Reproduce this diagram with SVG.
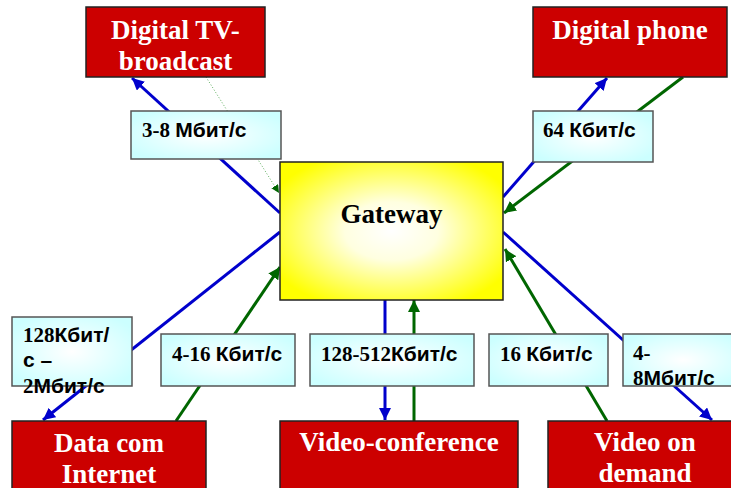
<svg xmlns="http://www.w3.org/2000/svg" width="731" height="488" viewBox="0 0 731 488">
<defs>
<radialGradient id="gy" cx="50%" cy="50%" r="60%">
<stop offset="0" stop-color="#ffffff"/>
<stop offset="0.35" stop-color="#ffffe0"/>
<stop offset="1" stop-color="#ffff00"/>
</radialGradient>
<radialGradient id="gc" cx="50%" cy="50%" r="60%">
<stop offset="0" stop-color="#ffffff"/>
<stop offset="1" stop-color="#ccffff"/>
</radialGradient>
<marker id="ab" viewBox="0 0 10 10" refX="10" refY="5" markerWidth="4" markerHeight="4" orient="auto" markerUnits="strokeWidth">
<path d="M0,0 L10,5 L0,10 z" fill="#0000cc"/>
</marker>
<marker id="ag" viewBox="0 0 10 10" refX="10" refY="5" markerWidth="4" markerHeight="4" orient="auto" markerUnits="strokeWidth">
<path d="M0,0 L10,5 L0,10 z" fill="#006600"/>
</marker>
<marker id="agd" viewBox="0 0 10 10" refX="10" refY="5" markerWidth="8" markerHeight="8" markerUnits="userSpaceOnUse" orient="auto">
<path d="M0,0 L10,5 L0,10 z" fill="#006600"/>
</marker>
</defs>
<style>
.red{fill:#cc0000;stroke:#222;stroke-width:1.5}
.lbl{fill:url(#gc);stroke:#555;stroke-width:1.5}
.gw{fill:url(#gy);stroke:#222;stroke-width:1.5}
.rt{font-family:"Liberation Serif","Times New Roman",serif;font-weight:bold;font-size:27px;fill:#fff;text-anchor:middle}
.gt{font-family:"Liberation Serif","Times New Roman",serif;font-weight:bold;font-size:27px;fill:#000;text-anchor:middle}
.lt{font-family:"Liberation Sans",Arial,sans-serif;font-weight:bold;font-size:21px;fill:#000}
.d{font-family:"Liberation Serif","Times New Roman",serif;font-size:21px}
.b{stroke:#0000cc;stroke-width:3;fill:none;marker-end:url(#ab)}
.g{stroke:#006600;stroke-width:3;fill:none;marker-end:url(#ag)}
.dot{stroke:#339933;stroke-width:0.8;stroke-dasharray:1 2;fill:none;marker-end:url(#agd)}
</style>
<g id="connectors">
<line class="b" x1="280" y1="213" x2="132" y2="78"/>
<line class="dot" x1="206" y1="77" x2="279" y2="193"/>
<line class="b" x1="503" y1="197" x2="607" y2="78"/>
<line class="g" x1="683" y1="77" x2="504" y2="213"/>
<line class="b" x1="280" y1="232" x2="43" y2="420"/>
<line class="g" x1="176" y1="421" x2="280" y2="267"/>
<line class="b" x1="385" y1="300" x2="385" y2="420"/>
<line class="g" x1="414" y1="421" x2="414" y2="300"/>
<line class="g" x1="607" y1="421" x2="505" y2="249"/>
<line class="b" x1="503" y1="232" x2="712" y2="420"/>
</g>
<g id="gateway">
<rect class="gw" x="280" y="162" width="223" height="138"/>
<text class="gt" x="391.5" y="223">Gateway</text>
</g>
<g id="digital-tv">
<rect class="red" x="86" y="7" width="179" height="70"/>
<text class="rt" x="175.5" y="39">Digital TV-</text>
<text class="rt" x="175.5" y="70">broadcast</text>
</g>
<g id="digital-phone">
<rect class="red" x="533" y="7" width="194" height="70"/>
<text class="rt" x="630" y="39">Digital phone</text>
</g>
<g id="data-com">
<rect class="red" x="12" y="421" width="194" height="75"/>
<text class="rt" x="109" y="452">Data com</text>
<text class="rt" x="109" y="483">Internet</text>
</g>
<g id="video-conference">
<rect class="red" x="280" y="421" width="238" height="75"/>
<text class="rt" x="399" y="451">Video-conference</text>
</g>
<g id="video-on-demand">
<rect class="red" x="548" y="421" width="194" height="75"/>
<text class="rt" x="645" y="451">Video on</text>
<text class="rt" x="645" y="482">demand</text>
</g>
<g id="label-3-8">
<rect class="lbl" x="131" y="111" width="150" height="48"/>
<text class="lt" x="142" y="137"><tspan class="d">3-8 </tspan>Мбит/с</text>
</g>
<g id="label-64">
<rect class="lbl" x="533" y="111" width="120" height="51"/>
<text class="lt" x="543" y="137"><tspan class="d">64 </tspan>Кбит/с</text>
</g>
<g id="label-128-2">
<rect class="lbl" x="12" y="317" width="120" height="69"/>
<text class="lt" x="23" y="342"><tspan class="d">128</tspan>Кбит/</text>
<text class="lt" x="23" y="367">с –</text>
<text class="lt" x="23" y="393"><tspan class="d">2</tspan>Мбит/с</text>
</g>
<g id="label-4-16">
<rect class="lbl" x="161" y="334" width="134" height="52"/>
<text class="lt" x="172" y="361"><tspan class="d">4-16 </tspan>Кбит/с</text>
</g>
<g id="label-128-512">
<rect class="lbl" x="310" y="334" width="164" height="52"/>
<text class="lt" x="321" y="361"><tspan class="d">128-512</tspan>Кбит/с</text>
</g>
<g id="label-16">
<rect class="lbl" x="489" y="334" width="119" height="52"/>
<text class="lt" x="500" y="361"><tspan class="d">16 </tspan>Кбит/с</text>
</g>
<g id="label-4-8">
<rect class="lbl" x="623" y="334" width="120" height="52"/>
<text class="lt" x="633" y="360"><tspan class="d">4-</tspan></text>
<text class="lt" x="633" y="385"><tspan class="d">8</tspan>Мбит/с</text>
</g>
</svg>
